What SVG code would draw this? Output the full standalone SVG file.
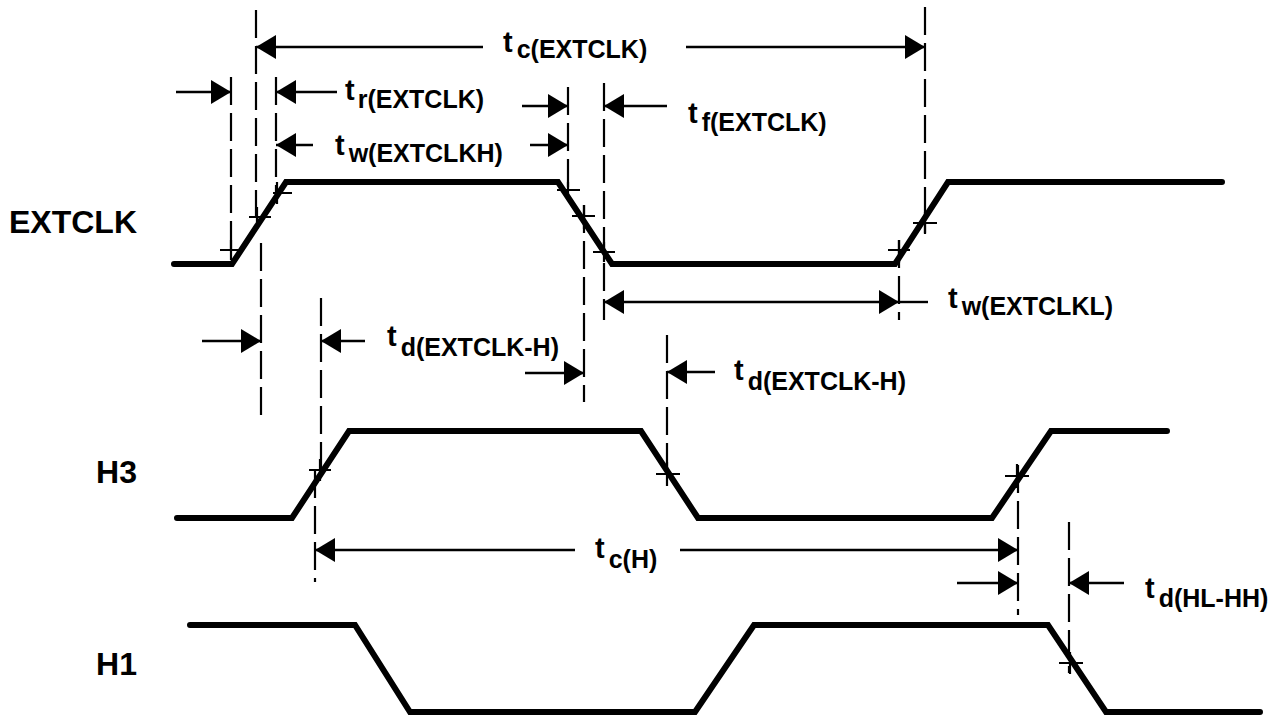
<svg xmlns="http://www.w3.org/2000/svg" width="1281" height="716" viewBox="0 0 1281 716">
<style>
.wave{fill:none;stroke:#000;stroke-width:6;stroke-linejoin:miter;stroke-linecap:round}
.dash{fill:none;stroke:#000;stroke-width:2.2;stroke-dasharray:28 8}
.tick{fill:none;stroke:#000;stroke-width:2.2}
.arr{fill:none;stroke:#000;stroke-width:2.4;marker-end:url(#ah)}
.arr2{fill:none;stroke:#000;stroke-width:2.4;marker-end:url(#ah);marker-start:url(#ahs)}
.ln{fill:none;stroke:#000;stroke-width:2.4}
text{font-family:"Liberation Sans",Arial,sans-serif;font-weight:bold;fill:#000}
.sig{font-size:32px}
.m{font-size:29px}
.s{font-size:25px}
</style>
<defs>
<marker id="ah" markerUnits="userSpaceOnUse" viewBox="0 0 20 24" refX="20" refY="12" markerWidth="20" markerHeight="24" orient="auto">
<path d="M0,0 L20,12 L0,24 z" fill="#000"/>
</marker>
<marker id="ahs" markerUnits="userSpaceOnUse" viewBox="0 0 20 24" refX="20" refY="12" markerWidth="20" markerHeight="24" orient="auto-start-reverse">
<path d="M0,0 L20,12 L0,24 z" fill="#000"/>
</marker>
</defs>
<rect width="1281" height="716" fill="#fff"/>

<g id="EXTCLK">
<text class="sig" x="137" y="233" text-anchor="end">EXTCLK</text>
<path class="wave" d="M174,264 L232,264 L286,182 L558,182 L612,264 L895,264 L948,182 L1222,182"/>
<path class="tick" d="M220,250 H240 M231,240 V260 M249,217 H271 M257,207 V229 M273,193 H292 M277,182 V204 M557,190 H580 M568,182 V200 M572,216 H595 M584,205 V229 M593,252 H615 M604,242 V262 M888,250 H910 M899,240 V263 M913,223 H937 M925,212 V234"/>
</g>

<g id="H3">
<text class="sig" x="137" y="483" text-anchor="end">H3</text>
<path class="wave" d="M177,518 L292,518 L349,431 L641,431 L698,518 L992,518 L1051,431 L1167,431"/>
<path class="tick" d="M309,470 H331 M320,459 V481 M656,474 H680 M667,462 V486 M1005,476 H1029 M1017,464 V488"/>
</g>

<g id="H1">
<text class="sig" x="137" y="675" text-anchor="end">H1</text>
<path class="wave" d="M190,625 L355,625 L410,712 L695,712 L754,625 L1048,625 L1106,712 L1260,712"/>
<path class="tick" d="M1059,663 H1083 M1070,652 V674"/>
</g>

<g id="connectors">
<path class="dash" d="M231,77 V250"/>
<path class="dash" d="M256,10 V220"/>
<path class="dash" d="M276,77 V193"/>
<path class="dash" d="M261,243 V415"/>
<path class="dash" d="M568,87 V193"/>
<path class="dash" d="M584,205 V402"/>
<path class="dash" d="M604,83 V320"/>
<path class="dash" d="M925,7 V233"/>
<path class="dash" d="M899,240 V320"/>
<path class="dash" d="M321,298 V470"/>
<path class="dash" d="M315,470 V582"/>
<path class="dash" d="M667,335 V477"/>
<path class="dash" d="M1018,465 V615"/>
<path class="dash" d="M1069,522 V673"/>

<line class="arr" x1="483" y1="47" x2="256" y2="47"/>
<line class="arr" x1="686" y1="47" x2="925" y2="47"/>
<line class="arr" x1="176" y1="92" x2="231" y2="92"/>
<line class="arr" x1="337" y1="92" x2="276" y2="92"/>
<line class="arr" x1="522" y1="106" x2="568" y2="106"/>
<line class="arr" x1="313" y1="145" x2="276" y2="145"/>
<line class="arr" x1="530" y1="145" x2="568" y2="145"/>
<line class="arr" x1="667" y1="106" x2="604" y2="106"/>
<line class="arr2" x1="604" y1="302" x2="899" y2="302"/>
<line class="ln" x1="899" y1="302" x2="928" y2="302"/>
<line class="arr" x1="202" y1="341" x2="261" y2="341"/>
<line class="arr" x1="365" y1="341" x2="321" y2="341"/>
<line class="arr" x1="525" y1="373" x2="584" y2="373"/>
<line class="arr" x1="715" y1="372" x2="667" y2="372"/>
<line class="arr" x1="575" y1="550" x2="315" y2="550"/>
<line class="arr" x1="680" y1="550" x2="1018" y2="550"/>
<line class="arr" x1="957" y1="583" x2="1018" y2="583"/>
<line class="arr" x1="1124" y1="583" x2="1069" y2="583"/>
</g>

<g id="labels">
<text x="503" y="52"><tspan class="m">t</tspan><tspan class="s" dx="4" dy="6">c(EXTCLK)</tspan></text>
<text x="345" y="100"><tspan class="m">t</tspan><tspan class="s" dx="3" dy="8">r(EXTCLK)</tspan></text>
<text x="335" y="155"><tspan class="m">t</tspan><tspan class="s" dx="4" dy="7">w(EXTCLKH)</tspan></text>
<text x="688" y="123"><tspan class="m">t</tspan><tspan class="s" dx="4" dy="8">f(EXTCLK)</tspan></text>
<text x="948" y="308"><tspan class="m">t</tspan><tspan class="s" dx="4" dy="7">w(EXTCLKL)</tspan></text>
<text x="387" y="346"><tspan class="m">t</tspan><tspan class="s" dx="4" dy="10">d(EXTCLK-H)</tspan></text>
<text x="734" y="380"><tspan class="m">t</tspan><tspan class="s" dx="4" dy="10">d(EXTCLK-H)</tspan></text>
<text x="595" y="558"><tspan class="m">t</tspan><tspan class="s" dx="4" dy="10">c(H)</tspan></text>
<text x="1145" y="598"><tspan class="m">t</tspan><tspan class="s" dx="4" dy="9">d(HL-HH)</tspan></text>
</g>
</svg>
